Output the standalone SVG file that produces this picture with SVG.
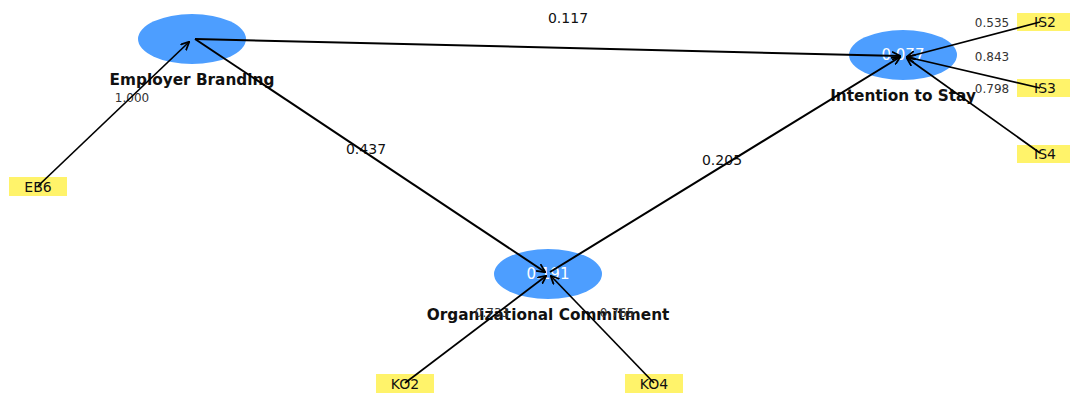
<svg xmlns="http://www.w3.org/2000/svg" width="1070" height="394" viewBox="0 0 1070 394">
<defs>
<style>
.lv{fill:#4d9eff}
.ind{fill:#fff36a}
.nm{font-family:"DejaVu Sans",sans-serif;font-weight:bold;font-size:15.3px;fill:#111;text-anchor:middle}
.r2{font-family:"DejaVu Sans",sans-serif;font-size:15px;fill:#fff;text-anchor:middle;dominant-baseline:central}
.it{font-family:"DejaVu Sans",sans-serif;font-size:14px;fill:#111;text-anchor:middle;dominant-baseline:central}
.pc{font-family:"DejaVu Sans",sans-serif;font-size:14px;fill:#111;text-anchor:middle;dominant-baseline:central}
.ld{font-family:"DejaVu Sans",sans-serif;font-size:12px;fill:#333;text-anchor:middle;dominant-baseline:central}
.e{stroke:#000;stroke-width:2;fill:none;marker-end:url(#a)}
.e1{stroke:#000;stroke-width:1.7;fill:none;marker-end:url(#a)}
</style>
<marker id="a" viewBox="0 0 10 10" refX="9" refY="5" markerWidth="9" markerHeight="9" markerUnits="userSpaceOnUse" orient="auto">
<path d="M0,0.5 L9.5,5 L0,9.5" fill="none" stroke="#000" stroke-width="2"/>
</marker>
</defs>
<rect width="1070" height="394" fill="#fff"/>
<g id="indicators">
<g id="EB6"><rect class="ind" x="9" y="177" width="58" height="19"/><text class="it" x="38" y="187">EB6</text></g>
<g id="IS2"><rect class="ind" x="1017" y="13" width="53" height="18"/><text class="it" x="1045" y="22">IS2</text></g>
<g id="IS3"><rect class="ind" x="1017" y="79" width="53" height="18"/><text class="it" x="1045" y="88">IS3</text></g>
<g id="IS4"><rect class="ind" x="1017" y="145" width="53" height="18"/><text class="it" x="1045" y="154">IS4</text></g>
<g id="KO2"><rect class="ind" x="376" y="374" width="58" height="19"/><text class="it" x="405" y="384">KO2</text></g>
<g id="KO4"><rect class="ind" x="625" y="374" width="58" height="19"/><text class="it" x="654" y="384">KO4</text></g>
</g>
<g id="EB"><ellipse class="lv" cx="192" cy="39" rx="54" ry="25"/><text class="nm" x="192" y="85">Employer Branding</text></g>
<g id="IS"><ellipse class="lv" cx="903" cy="55" rx="54" ry="25"/><text class="r2" x="903" y="55">0.077</text><text class="nm" x="903" y="101">Intention to Stay</text></g>
<g id="OC"><ellipse class="lv" cx="548" cy="274" rx="54" ry="25"/><text class="r2" x="548" y="274">0.191</text><text class="nm" x="548" y="320">Organizational Commitment</text></g>
<g id="labels">
<text class="pc" x="568" y="18">0.117</text>
<text class="pc" x="366" y="149">0.437</text>
<text class="pc" x="722" y="160">0.205</text>
<text class="ld" x="132" y="98">1.000</text>
<text class="ld" x="992" y="23">0.535</text>
<text class="ld" x="992" y="57">0.843</text>
<text class="ld" x="992" y="89">0.798</text>
<text class="ld" x="492" y="313">0.733</text>
<text class="ld" x="617" y="313">0.765</text>
</g>
<g id="connectors">
<line class="e1" x1="38" y1="186" x2="189" y2="42"/>
<line class="e" x1="195" y1="39" x2="900" y2="56"/>
<line class="e" x1="195" y1="39" x2="545" y2="272"/>
<line class="e" x1="550" y1="272" x2="900" y2="57"/>
<line class="e1" x1="1040" y1="22" x2="907" y2="57"/>
<line class="e1" x1="1040" y1="88" x2="907" y2="57"/>
<line class="e1" x1="1040" y1="153" x2="907" y2="58"/>
<line class="e1" x1="405" y1="383" x2="546" y2="276"/>
<line class="e1" x1="654" y1="383" x2="551" y2="276"/>
</g>
</svg>
